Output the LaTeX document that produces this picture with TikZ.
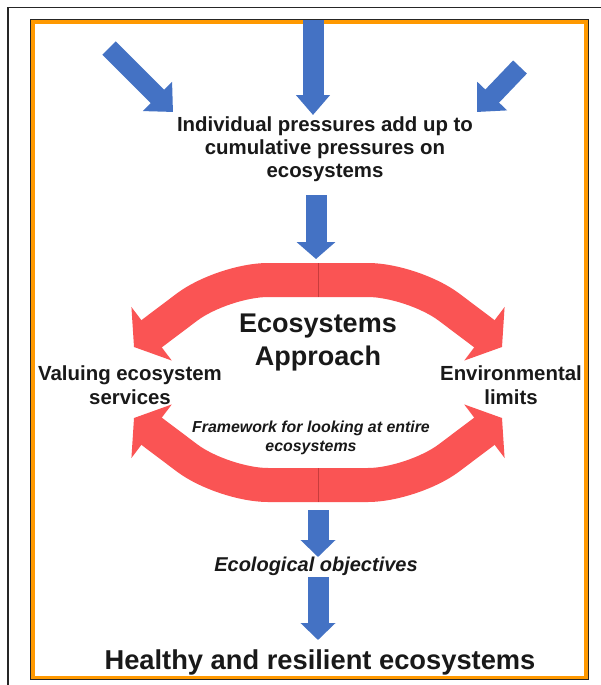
\documentclass[tikz,border=0pt]{standalone}
\usepackage{fontspec}
\setmainfont{Liberation Sans}
\usetikzlibrary{arrows.meta}
\definecolor{eblue}{RGB}{68,114,196}
\definecolor{ered}{RGB}{250,84,84}
\definecolor{edred}{RGB}{200,60,60}
\definecolor{eorange}{RGB}{255,153,0}
\definecolor{etext}{RGB}{25,25,25}
\begin{document}
\begin{tikzpicture}[x=1pt,y=-1pt,
  bluearr/.style={draw=eblue, line width=21pt, -{Triangle[length=20pt,width=36pt]}},
  diagarr/.style={draw=eblue, line width=19pt, -{Triangle[length=22pt,width=40pt]}},
  redarr/.style={draw=ered, line width=34pt, rounded corners=45pt, -{Triangle[length=22pt,width=66pt]}},
  lbl/.style={text=etext, align=center, inner sep=0pt, font=\bfseries\fontsize{20.4}{24}\selectfont},
]
\useasboundingbox (0,0) rectangle (600,685);
\fill[white] (0,0) rectangle (600,685);
% frames
\draw[line width=1.5pt, black!85] (8,690) -- (8,7.5) -- (610,7.5);
\draw[line width=4pt, eorange] (33,22.5) rectangle (586,677.5);
\draw[line width=1.3pt, black!85] (30.5,19.5) rectangle (588.5,679.5);

% text nodes
\node[lbl, font=\bfseries\fontsize{20.4}{23}\selectfont] (press) at (325,149) {Individual pressures add up to\\cumulative pressures on\\ecosystems};
\node[lbl, font=\bfseries\fontsize{27}{33}\selectfont] (eco) at (318,343) {Ecosystems\\Approach};
\node[lbl] (val) at (130,385) {Valuing ecosystem\\services};
\node[lbl] (env) at (511,385) {Environmental\\limits};
\node[lbl, font=\bfseries\itshape\fontsize{15.9}{19.5}\selectfont] (frame) at (311,438) {Framework for looking at entire\\ecosystems};
\node[lbl, font=\bfseries\itshape\fontsize{20}{24}\selectfont] (obj) at (316,566) {Ecological objectives};
\node[lbl, font=\bfseries\fontsize{27.3}{33}\selectfont] (health) at (320,662) {Healthy and resilient ecosystems};

% blue arrows
\coordinate (s1) at (109,48);  \coordinate (e1) at (173,112);
\coordinate (s2) at (313,20);  \coordinate (e2) at (313,115);
\coordinate (s3) at (520,67);  \coordinate (e3) at (477,112);
\draw[diagarr] (s1) -- (e1);
\draw[bluearr, -{Triangle[length=20pt,width=33pt]}] (s2) -- (e2);
\draw[diagarr] (s3) -- (e3);
\coordinate (b2s) at (316,195); \coordinate (b2e) at (316,259);
\draw[bluearr, -{Triangle[length=17pt,width=38pt]}] (b2s) -- (b2e);
\coordinate (b3s) at (318,510); \coordinate (b3e) at (318,557);
\draw[bluearr, -{Triangle[length=17pt,width=34pt]}] (b3s) -- (b3e);
\coordinate (b4s) at (318,577); \coordinate (b4e) at (318,640);
\draw[bluearr, -{Triangle[length=17pt,width=34pt]}] (b4s) -- (b4e);

% red arrows
\coordinate (ct) at (318,280);
\coordinate (cb) at (318,485);
\coordinate (tl) at (134,347);
\coordinate (tr) at (502,347);
\coordinate (bl) at (134,418);
\coordinate (br) at (502,418);
\draw[redarr] (ct) -- (223,280) -- (tl);
\draw[redarr] (ct) -- (413,280) -- (tr);
\draw[redarr] (cb) -- (223,485) -- (bl);
\draw[redarr] (cb) -- (413,485) -- (br);
\draw[edred, line width=0.7pt] (318,263) -- (318,297);
\draw[edred, line width=0.7pt] (318,468) -- (318,502);
\end{tikzpicture}
\end{document}
